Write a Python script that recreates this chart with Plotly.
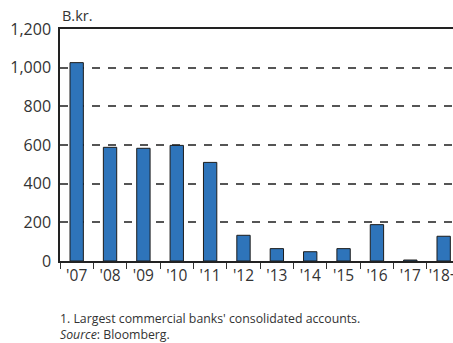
import plotly.graph_objects as go

categories = ["'07", "'08", "'09", "'10", "'11", "'12", "'13", "'14", "'15", "'16", "'17", "'18+"]
values = [1026, 588, 583, 598, 510, 133, 64, 48, 64, 188, 5, 128]
y_ticks = [0, 200, 400, 600, 800, 1000, 1200]
y_tick_labels = ["0", "200", "400", "600", "800", "1,000", "1,200"]

fig = go.Figure(go.Bar(
    x=categories, y=values,
    marker=dict(color="#2e74ba", line=dict(color="#1c1c1c", width=1)),
))

font = "Open Sans, Noto Sans, sans-serif"
fig.update_layout(
    width=453, height=343,
    margin=dict(l=60, r=0, t=29, b=82, autoexpand=False),
    paper_bgcolor="white", plot_bgcolor="white",
    bargap=0.6, showlegend=False,
    font=dict(family=font, size=15, color="#333333"),
    xaxis=dict(
        type="category", range=[-0.5, 11.28], automargin=False,
        showline=True, linecolor="#222222", linewidth=1.5, mirror=True,
        ticks="outside", tickson="boundaries", ticklen=6, tickcolor="#333333",
        showgrid=False, tickfont=dict(size=15.5), tickangle=0,
    ),
    yaxis=dict(
        range=[0, 1200], tickvals=y_ticks, ticktext=y_tick_labels, automargin=False,
        showline=True, linecolor="#222222", linewidth=1.5,
        ticks="", showgrid=True, gridcolor="#555555", gridwidth=1.5,
        griddash="8px,8px", zeroline=False, tickfont=dict(size=16),
        ticklabelstandoff=4,
    ),
    annotations=[
        dict(text="B.kr.", xref="paper", yref="paper", x=0, y=1, xanchor="left",
             yanchor="bottom", yshift=2, showarrow=False, font=dict(size=14.5)),
        dict(text="1. Largest commercial banks' consolidated accounts.", xref="paper",
             yref="paper", x=-0.005, y=0, xanchor="left", yanchor="middle",
             yshift=-57, showarrow=False, font=dict(size=12.3)),
        dict(text="<i>Source</i>: Bloomberg.", xref="paper",
             yref="paper", x=-0.005, y=0, xanchor="left", yanchor="middle",
             yshift=-73.5, showarrow=False, font=dict(size=12.3)),
    ],
)

fig.write_html("out.html", config={"displayModeBar": False},
               post_script="document.body.style.margin='0';document.body.style.overflow='hidden';")
